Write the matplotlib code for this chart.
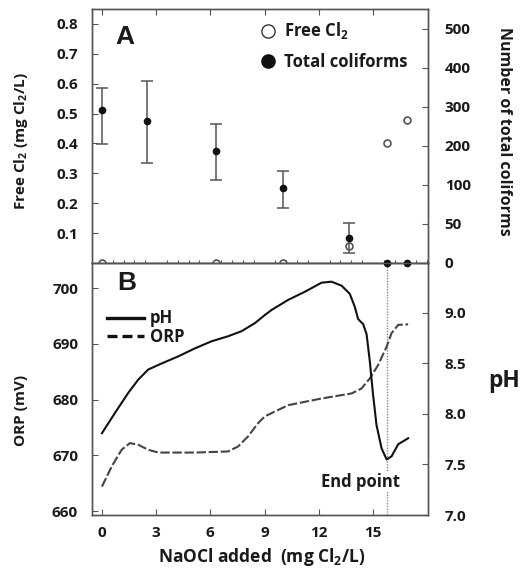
import numpy as np
import matplotlib
matplotlib.use("Agg")
import matplotlib.pyplot as plt
from matplotlib.lines import Line2D
from matplotlib.ticker import MultipleLocator, FixedLocator, FormatStrFormatter

plt.rcParams['font.family'] = ['Open Sans', 'DejaVu Sans']
plt.rcParams['font.weight'] = 'bold'
plt.rcParams['mathtext.fontset'] = 'custom'
plt.rcParams['mathtext.rm'] = 'Open Sans:bold'
plt.rcParams['mathtext.bf'] = 'Open Sans:bold'

# ---------------- data ----------------
# Panel A
col_x = [0, 2.5, 6.3, 10.0, 13.7, 15.8, 16.9]
col_mean = [292, 264, 187, 96, 32, 0, 0]
col_low = [205, 156, 113, 71, 13, 0, 0]
col_high = [349, 367, 256, 136, 51, 0, 0]

cl_x = [0, 6.3, 10.0, 13.7, 15.8, 16.9]
cl_val = [0.0, 0.0, 0.0, 0.057, 0.40, 0.48]

# Panel B
ph_x = [0.0, 0.72, 1.46, 2.01, 2.56, 3.30, 4.22, 5.15, 6.07, 6.99, 7.73, 8.47, 9.02,
        9.39, 10.31, 11.23, 12.16, 12.71, 13.27, 13.72, 14.00, 14.18, 14.46, 14.65,
        14.83, 15.01, 15.20, 15.48, 15.76, 16.03, 16.40, 16.95]
ph_val = [7.81, 8.01, 8.21, 8.34, 8.44, 8.50, 8.57, 8.65, 8.72, 8.77, 8.82, 8.90, 8.98,
          9.03, 9.13, 9.21, 9.30, 9.31, 9.27, 9.19, 9.06, 8.94, 8.89, 8.79,
          8.52, 8.19, 7.89, 7.66, 7.55, 7.58, 7.70, 7.76]

orp_x = [0.0, 0.54, 1.09, 1.55, 2.01, 2.56, 3.12, 5.15, 6.99, 7.54, 8.09, 8.65, 9.02,
         10.31, 12.16, 13.82, 14.37, 14.83, 15.29, 15.76, 16.03, 16.40, 16.95]
orp_val = [664.4, 668.0, 671.0, 672.2, 671.9, 671.0, 670.5, 670.5, 670.7, 671.6, 673.4,
           675.8, 677.0, 679.0, 680.2, 681.1, 682.0, 683.8, 686.2, 689.5, 691.9, 693.4, 693.5]

end_point = 15.8

x_ticks = [0, 3, 6, 9, 12, 15]
cl_ticks = [0.1, 0.2, 0.3, 0.4, 0.5, 0.6, 0.7, 0.8]
col_ticks = [0, 50, 100, 200, 300, 400, 500]
orp_ticks = [660, 670, 680, 690, 700]
ph_ticks = [7.0, 7.5, 8.0, 8.5, 9.0]

# --------------- figure ---------------
W, H = 525, 574
fig = plt.figure(figsize=(W / 100, H / 100), dpi=100)
SP = '#555555'
TXT = '#1a1a1a'

def px(l, t, r, b):
    return [l / W, 1 - b / H, (r - l) / W, (b - t) / H]

axA = fig.add_axes(px(92, 9, 428, 263))
axB = fig.add_axes(px(92, 263, 428, 515))
axA2 = axA.twinx()
axB2 = axB.twinx()

for ax in (axA, axB, axA2, axB2):
    for s in ax.spines.values():
        s.set_color(SP)
        s.set_linewidth(1.0)
    ax.set_xlim(-0.55, 18.05)

# coliform piecewise scale
seg_v = [-50, 0, 50, 100, 200, 300, 400, 500, 600]
seg_p = [-1, 0, 1, 2, 3, 4, 5, 6, 7]
fwd = lambda v: np.interp(v, seg_v, seg_p)
inv = lambda p: np.interp(p, seg_p, seg_v)
axA2.set_yscale('function', functions=(fwd, inv))
axA2.set_ylim(0, 551)
axA.set_ylim(0, 0.85)

# Panel A drawing
yerr = [np.array(col_mean) - np.array(col_low), np.array(col_high) - np.array(col_mean)]
axA2.errorbar(col_x[:5], col_mean[:5], yerr=[yerr[0][:5], yerr[1][:5]], fmt='none',
              ecolor='#555555', elinewidth=1.1, capsize=4, capthick=1.1, zorder=3)
axA2.plot(col_x, col_mean, 'o', color='#111111', ms=4.5, zorder=5, clip_on=False)
axA.plot(cl_x, cl_val, 'o', mfc='white', mec='#555555', mew=1.2, ms=5, zorder=4,
         clip_on=False)

# ticks panel A
axA.xaxis.set_major_locator(FixedLocator(x_ticks))
axA.xaxis.set_minor_locator(MultipleLocator(0.6))
axA.tick_params(axis='x', which='major', top=True, bottom=False, direction='in',
                length=4, color=SP, labelbottom=False, labeltop=False)
axA.tick_params(axis='x', which='minor', top=False, bottom=True, direction='inout',
                length=4, width=0.8, color=SP)
axA.yaxis.set_major_locator(FixedLocator(cl_ticks))
axA.yaxis.set_major_formatter(FormatStrFormatter('%.1f'))
axA.tick_params(axis='y', direction='in', length=4, color=SP, pad=10,
                labelsize=11, labelcolor=TXT)
axA2.yaxis.set_major_locator(FixedLocator(col_ticks))
axA2.yaxis.set_minor_locator(FixedLocator([]))
axA2.yaxis.set_major_formatter(FormatStrFormatter('%d'))
axA2.tick_params(axis='y', direction='in', length=4, color=SP, pad=12,
                 labelsize=11, labelcolor=TXT)
axA2.tick_params(axis='x', which='both', bottom=False, top=False)

for lab in axA.get_yticklabels() + axA2.get_yticklabels():
    lab.set_fontweight('bold')

handlesA = [Line2D([], [], ls='none', marker='o', mfc='white', mec='#333333', mew=1.0, ms=9.5),
            Line2D([], [], ls='none', marker='o', color='#111111', ms=9.5)]
legA = axA2.legend(handlesA, ['Free Cl$_\\mathregular{2}$', 'Total coliforms'],
                   loc='upper left', bbox_to_anchor=(251 / W, 1 - 12 / H),
                   bbox_transform=fig.transFigure, frameon=False, borderpad=0,
                   handlelength=1.0, handletextpad=0.5, labelspacing=0.7,
                   prop={'family': 'Open Sans', 'weight': 'bold', 'size': 12})
for t in legA.get_texts():
    t.set_color(TXT)

# Panel B drawing
axB2.plot(ph_x, ph_val, '-', color='#111111', lw=1.5, zorder=4)
axB.plot(orp_x, orp_val, color='#444444', lw=1.5, dashes=(4.5, 1.3), zorder=4)
axB.set_ylim(659.3, 704.5)
axB2.set_ylim(7.0, 9.495)
axB.axvline(end_point, color='#888888', lw=1.0, ls=(0, (1, 1)), zorder=2)

axB.text(14.3, 665.2, 'End point', fontsize=12, fontweight='bold', ha='center',
         va='center', color=TXT, zorder=5,
         bbox=dict(facecolor='white', edgecolor='none', pad=1.0))

axB.xaxis.set_major_locator(FixedLocator(x_ticks))
axB.tick_params(axis='x', direction='in', length=4, color=SP, top=False, pad=8,
                labelsize=11, labelcolor=TXT)
axB.yaxis.set_major_locator(FixedLocator(orp_ticks))
axB.tick_params(axis='y', direction='in', length=4, color=SP, pad=10,
                labelsize=11, labelcolor=TXT)
axB2.yaxis.set_major_locator(FixedLocator(ph_ticks))
axB2.yaxis.set_major_formatter(FormatStrFormatter('%.1f'))
axB2.tick_params(axis='y', direction='in', length=4, color=SP, pad=12,
                 labelsize=11, labelcolor=TXT)
for lab in axB.get_xticklabels() + axB.get_yticklabels() + axB2.get_yticklabels():
    lab.set_fontweight('bold')

handlesB = [Line2D([], [], color='#111111', lw=2.4),
            Line2D([], [], color='#111111', lw=2.4, dashes=(3.0, 1.5))]
legB = axB.legend(handlesB, ['pH', 'ORP'], loc='upper left',
                  bbox_to_anchor=(99 / W, 1 - 301 / H), bbox_transform=fig.transFigure,
                  frameon=False, borderpad=0, handlelength=2.2, handletextpad=0.35,
                  labelspacing=0.05,
                  prop={'family': 'Open Sans', 'weight': 'bold', 'size': 12})
for t in legB.get_texts():
    t.set_color(TXT)

# axis labels and panel letters
def ftxt(x, y, s, **kw):
    fig.text(x / W, 1 - y / H, s, ha='center', va='center', color=TXT,
             fontweight='bold', **kw)

ftxt(125, 37, 'A', fontsize=19, family='Liberation Sans')
ftxt(127, 283, 'B', fontsize=19, family='Liberation Sans')
ftxt(21, 141, 'Free Cl$_\\mathregular{2}$ (mg Cl$_\\mathregular{2}$/L)', rotation=90, fontsize=11)
ftxt(504, 131, 'Number of total coliforms', rotation=-90, fontsize=11.5)
ftxt(21, 410, 'ORP (mV)', rotation=90, fontsize=11)
ftxt(504, 381, 'pH', fontsize=16.5)
ftxt(262, 557, 'NaOCl added  (mg Cl$_\\mathregular{2}$/L)', fontsize=12.5)

fig.savefig('out.png', dpi=100)
